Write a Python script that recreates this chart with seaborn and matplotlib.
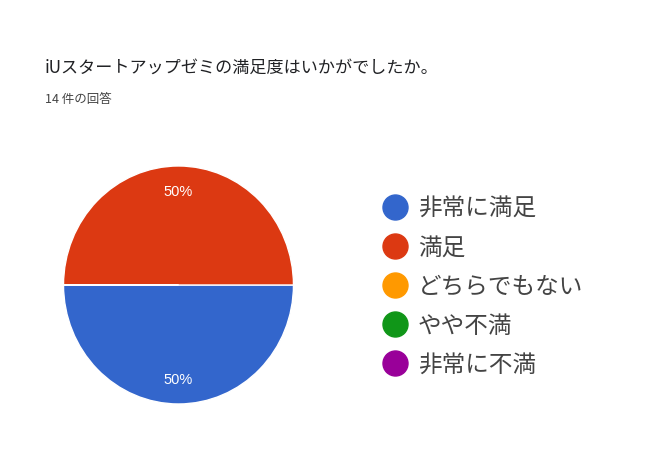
import matplotlib
matplotlib.use("Agg")
import matplotlib.pyplot as plt
from matplotlib.lines import Line2D
import seaborn as sns

# survey answers (Google Forms style pie)
categories = ["非常に満足", "満足", "どちらでもない", "やや不満", "非常に不満"]
counts = [7, 7, 0, 0, 0]
colors = ["#3366cc", "#dc3912", "#ff9900", "#109618", "#990099"]
title = "iUスタートアップゼミの満足度はいかがでしたか。"

sns.set_theme(style="white")
plt.rcParams["font.family"] = ["Noto Sans CJK JP", "DejaVu Sans"]

fig = plt.figure(figsize=(6.5, 4.6), dpi=100)
fig.patch.set_facecolor("white")

fig.text(0.069, 0.852, title, fontsize=12.3, color="#202124", va="center", ha="left")
fig.text(0.069, 0.783, f"{sum(counts)} 件の回答", fontsize=9, color="#444444",
         va="center", ha="left")

ax = fig.add_axes([0.0977, 0.1196, 0.3538, 0.5174])
wedges, texts, autotexts = ax.pie(
    counts, colors=colors, startangle=180, counterclock=True,
    autopct=lambda p: f"{p:.0f}%" if p > 0 else "",
    pctdistance=0.79, radius=1,
    wedgeprops=dict(edgecolor="white", linewidth=1),
    textprops=dict(color="white", fontsize=10.5, family=["Liberation Sans", "DejaVu Sans"]),
)
ax.set_xlim(-1, 1)
ax.set_ylim(-1, 1)
ax.set_aspect("auto")
ax.axis("off")

handles = [Line2D([], [], marker="o", linestyle="", markersize=18, color=c) for c in colors]
leg = fig.legend(handles, categories, loc="upper left", bbox_to_anchor=(0.59, 0.57),
                 frameon=False, fontsize=17, labelcolor="#444444",
                 handlelength=1.0, handletextpad=0.45, labelspacing=0.68,
                 borderpad=0, borderaxespad=0)

fig.savefig("out.png", dpi=100, facecolor="white")
